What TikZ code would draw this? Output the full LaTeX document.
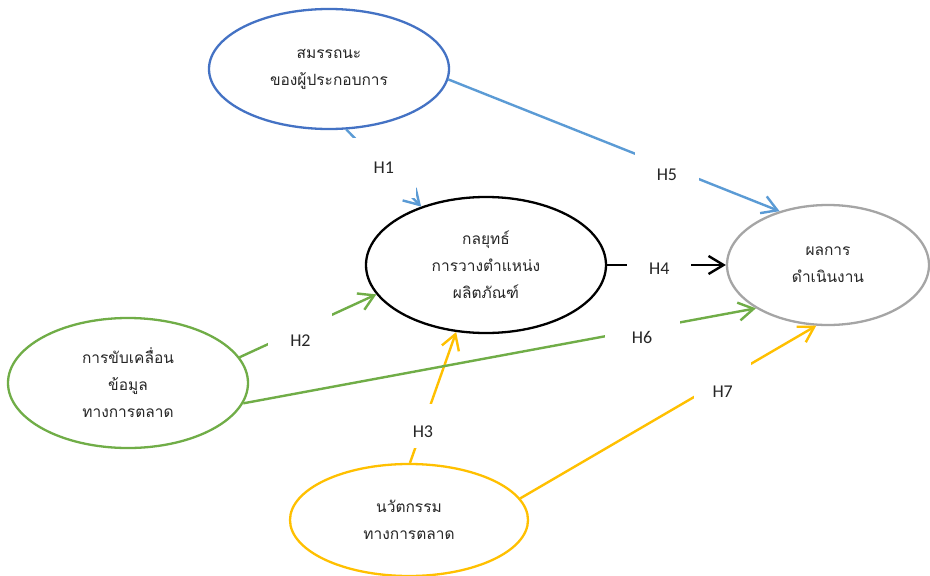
\documentclass[tikz,border=0pt]{standalone}
\usepackage{fontspec}
\setmainfont{Carlito}
\newfontfamily\thaifont[Script=Thai]{Loma}
\usetikzlibrary{arrows.meta,shapes.geometric}
\definecolor{eblue}{HTML}{4472C4}
\definecolor{lblue}{HTML}{5B9BD5}
\definecolor{egreen}{HTML}{70AD47}
\definecolor{eyellow}{HTML}{FFC000}
\definecolor{egray}{HTML}{A5A5A5}
\definecolor{txt}{HTML}{262626}
\begin{document}
\begin{tikzpicture}[x=1pt,y=-1pt,
  construct/.style={ellipse, draw, line width=2.3pt, inner sep=0pt, align=center, text=txt,
    font=\thaifont\fontsize{15.5}{27}\selectfont},
  link/.style={line width=2.4pt, -{Straight Barb[length=15pt,width=18pt,line width=2.4pt]}},
  hlabel/.style={fill=white, inner sep=0pt, minimum width=64pt, minimum height=44pt, text=txt,
    text depth=0pt, text height=11.6pt, font=\fontsize{18}{20}\selectfont},
]
\useasboundingbox[fill=white] (0,0) rectangle (930,576);

\node[construct, draw=eblue, minimum width=240pt, minimum height=120pt] (comp) at (329,69) {สมรรถนะ\\ของผู้ประกอบการ};
\node[construct, draw=black, minimum width=240pt, minimum height=136pt] (strat) at (486,265) {กลยุทธ์\\การวางตำแหน่ง\\ผลิตภัณฑ์};
\node[construct, draw=egreen, minimum width=240pt, minimum height=130pt] (data) at (128,383) {การขับเคลื่อน\\ข้อมูล\\ทางการตลาด};
\node[construct, draw=eyellow, minimum width=238pt, minimum height=112pt] (innov) at (409,520) {นวัตกรรม\\ทางการตลาด};
\node[construct, draw=egray, minimum width=202pt, minimum height=120pt] (perf) at (828,265) {ผลการ\\ดำเนินงาน};

\draw[link, lblue] (comp.-74.8) -- node[hlabel, pos=0.5, minimum height=60pt] {H1} (strat.138.2);
\draw[link, egreen] (data.13) -- node[hlabel, pos=0.445, text height=33.6pt] {H2} (strat.-165);
\draw[link, eyellow] (innov.89) -- node[hlabel, pos=0.28, text height=21.6pt] {H3} (strat.-114.8);
\draw[link, black] (strat.0) -- node[hlabel, pos=0.44, text height=19.6pt] {H4} (perf.180);
\draw[link, lblue] (comp.-5.3) -- node[hlabel, pos=0.66, text height=27.6pt] {H5} (perf.132.8);
\draw[link, egreen] (data.-10.5) -- node[hlabel, pos=0.778, minimum width=75pt, text height=27.6pt] {H6} (perf.-149);
\draw[link, eyellow] (innov.11.4) -- node[hlabel, pos=0.684, minimum width=57pt, text height=33.6pt] {H7} (perf.-101.3);
\end{tikzpicture}
\end{document}
